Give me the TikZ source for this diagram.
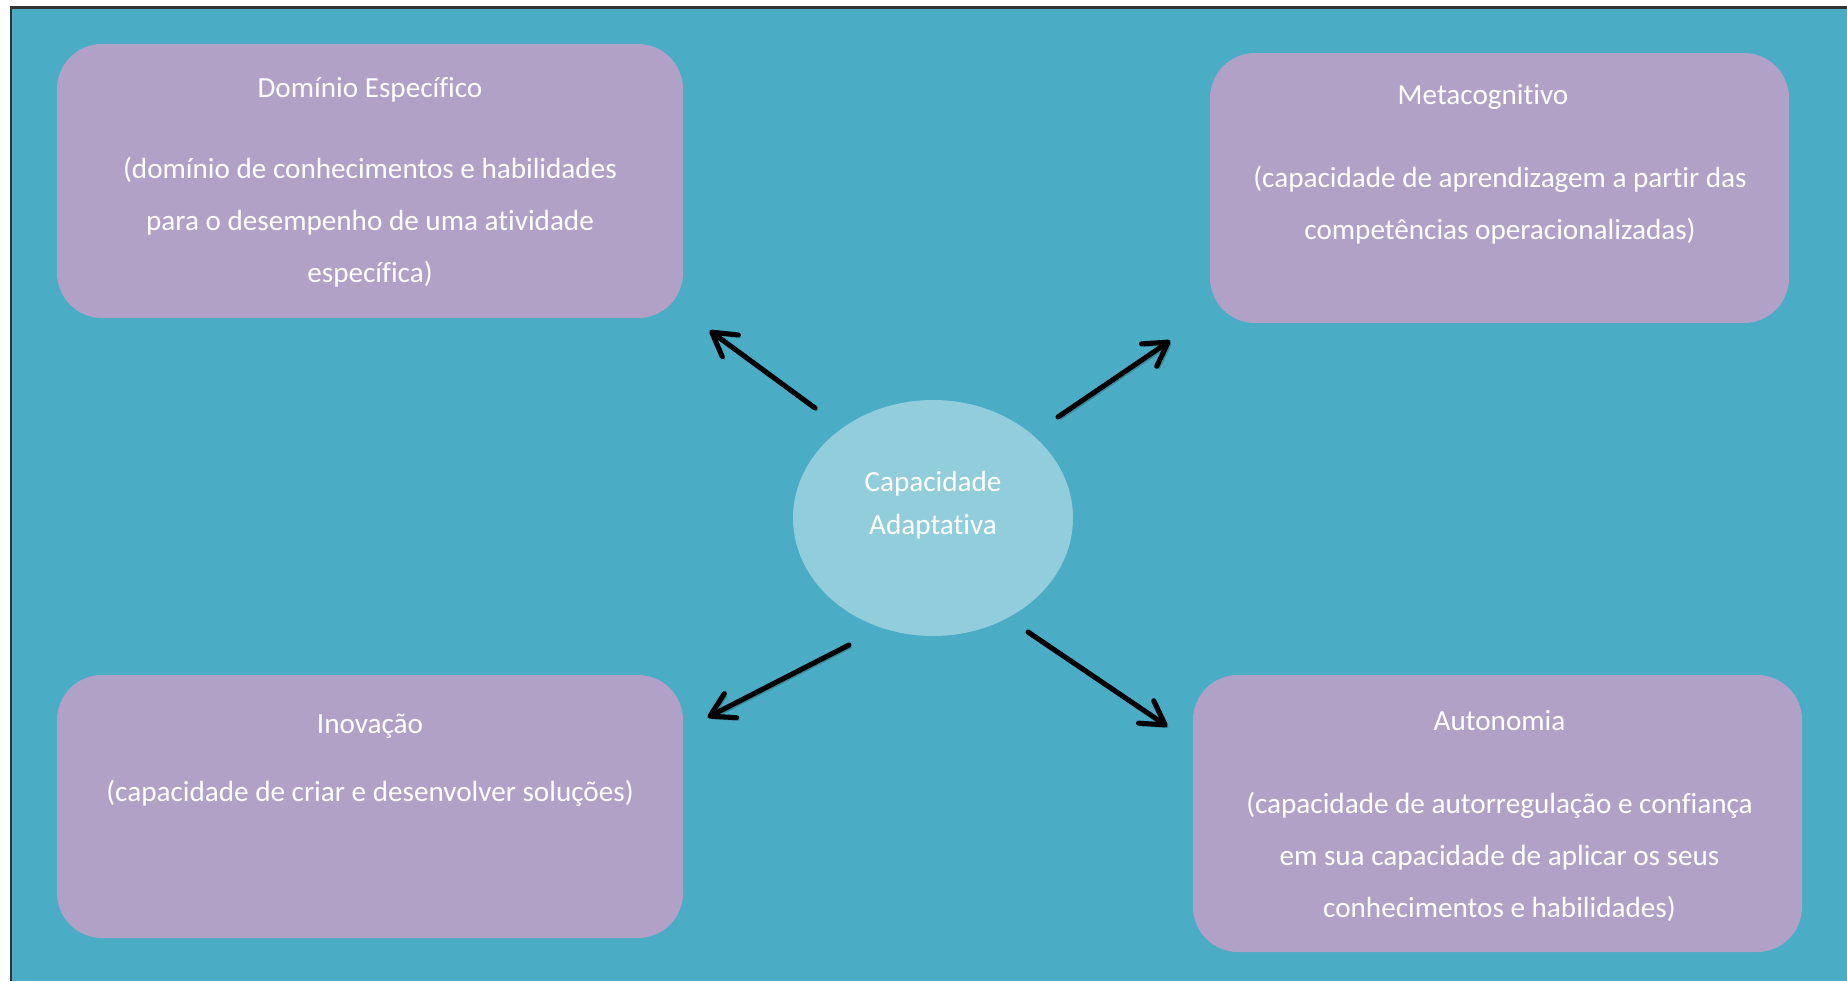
\documentclass[tikz,border=0pt]{standalone}
\usepackage{fontspec}
\setmainfont{Carlito}[Ligatures=NoCommon]
\usepackage{tikz}
\usetikzlibrary{calc, shapes, arrows.meta, positioning}
\definecolor{bgteal}{HTML}{4BACC6}
\definecolor{boxlilac}{HTML}{B2A1C7}
\definecolor{hubblue}{HTML}{92CDDC}
\tikzstyle{card} = [rectangle, fill=boxlilac, rounded corners=0.45cm]
\tikzstyle{cardtext} = [text=white, align=center, font=\fontsize{8.3}{14.8}\selectfont]
\tikzstyle{arr} = [-{Straight Barb[length=2.3mm, width=2.7mm, round]}, line width=1.45pt, line cap=round, black,
    preaction={draw, black, opacity=0.2, transform canvas={shift={(0.025, -0.025)}}}]

\begin{document}
\begin{tikzpicture}

        \useasboundingbox (0, 0) rectangle (18.47, -9.81);
        \fill[bgteal] (0.11, -0.075) rectangle (18.47, -9.81);
        \draw[line width=0.7pt, black!80] (0.11, -9.81) -- (0.11, -0.075) -- (18.47, -0.075);

        \node[card, minimum width=6.26cm, minimum height=2.74cm] at (3.70, -1.81) (Dominio) {};
        \node[cardtext] at (3.70, -0.895) (DominioTitle) {Domínio Específico};
        \node[cardtext] at (3.70, -2.225) (DominioText) {(domínio de conhecimentos e habilidades\\para o desempenho de uma atividade\\específica)};

        \node[card, minimum width=5.79cm, minimum height=2.70cm] at (14.995, -1.88) (Meta) {};
        \node[cardtext] at (14.83, -0.97) (MetaTitle) {Metacognitivo};
        \node[cardtext] at (15.00, -2.055) (MetaText) {(capacidade de aprendizagem a partir das\\competências operacionalizadas)};

        \node[card, minimum width=6.26cm, minimum height=2.63cm] at (3.70, -8.065) (Inovacao) {};
        \node[cardtext] at (3.70, -7.26) (InovacaoTitle) {Inovação};
        \node[cardtext] at (3.70, -7.93) (InovacaoText) {(capacidade de criar e desenvolver soluções)};

        \node[card, minimum width=6.09cm, minimum height=2.77cm] at (14.975, -8.135) (Autonomia) {};
        \node[cardtext] at (14.995, -7.21) (AutonomiaTitle) {Autonomia};
        \node[cardtext] at (14.995, -8.565) (AutonomiaText) {(capacidade de autorregulação e confiança\\em sua capacidade de aplicar os seus\\conhecimentos e habilidades)};

        \node[ellipse, fill=hubblue, minimum width=2.80cm, minimum height=2.36cm, inner sep=0pt] at (9.33, -5.18) (Hub) {};
        \node[cardtext, font=\fontsize{8.3}{12.2}\selectfont] at (9.33, -5.055) (HubText) {Capacidade\\Adaptativa};

        \draw[arr] ($(Hub.center)+(-1.18, 1.10)$) -- ($(Dominio.south east)+(0.26, -0.12)$);
        \draw[arr] ($(Hub.center)+(1.25, 1.01)$) -- ($(Meta.south west)+(-0.39, -0.17)$);
        \draw[arr] ($(Hub.center)+(-0.84, -1.27)$) -- ($(Inovacao.north east)+(0.24, -0.43)$);
        \draw[arr] ($(Hub.center)+(0.95, -1.14)$) -- ($(Autonomia.north west)+(-0.25, -0.52)$);

    \end{tikzpicture}
\end{document}
